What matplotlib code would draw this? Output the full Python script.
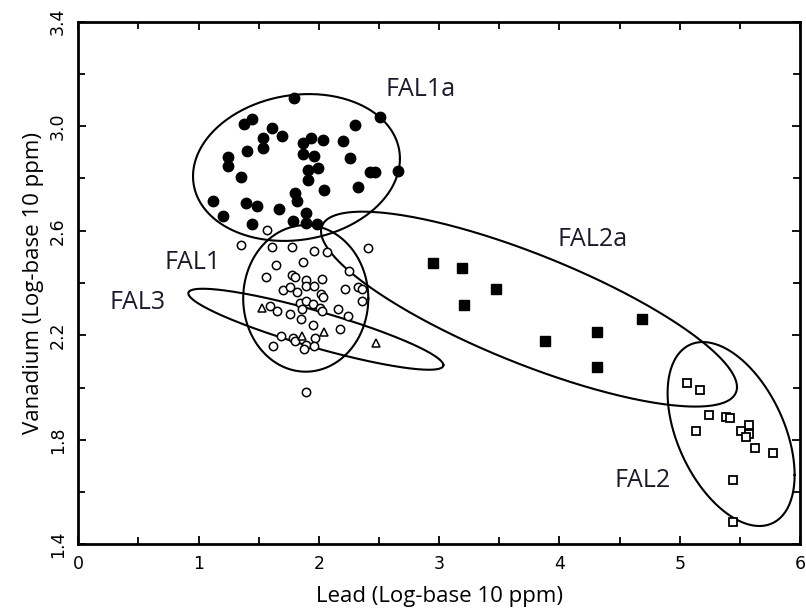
import numpy as np
import matplotlib
matplotlib.use("Agg")
import matplotlib.pyplot as plt
from matplotlib.ticker import MultipleLocator, FixedLocator

# FAL1a - filled circles
fal1a_pb = [1.793, 2.508, 1.442, 1.378, 1.608, 1.691, 1.538, 1.538, 1.400, 1.247,
            1.247, 1.350, 2.300, 2.203, 2.259, 1.871, 1.932, 2.032, 1.871, 1.960,
            1.912, 1.995, 1.912, 2.043, 2.425, 2.467, 2.660, 2.323, 1.122, 1.201,
            1.394, 1.483, 1.669, 1.802, 1.816, 1.893, 1.442, 1.783, 1.893, 1.982]
fal1a_v = [3.109, 3.035, 3.028, 3.008, 2.994, 2.964, 2.954, 2.915, 2.905, 2.881,
           2.848, 2.805, 3.005, 2.945, 2.877, 2.935, 2.956, 2.947, 2.894, 2.886,
           2.832, 2.839, 2.794, 2.756, 2.826, 2.826, 2.829, 2.766, 2.715, 2.656,
           2.707, 2.695, 2.683, 2.743, 2.715, 2.669, 2.625, 2.637, 2.628, 2.626]

# FAL1 - open circles
fal1_pb = [1.571, 1.353, 1.608, 1.774, 1.962, 2.070, 2.411, 1.871, 1.641, 1.561,
           1.774, 1.802, 1.893, 2.024, 2.253, 1.704, 1.760, 1.816, 1.893, 1.960,
           2.015, 2.037, 2.217, 2.328, 2.356, 2.356, 1.594, 1.649, 1.760, 1.843,
           1.893, 1.954, 1.857, 1.849, 2.010, 2.024, 2.162, 2.240, 1.954, 2.176,
           1.683, 1.783, 1.802, 1.893, 1.968, 1.960, 1.876, 1.621, 1.891]
fal1_v = [2.603, 2.545, 2.539, 2.537, 2.524, 2.517, 2.535, 2.482, 2.469, 2.422,
          2.431, 2.422, 2.411, 2.414, 2.447, 2.373, 2.386, 2.367, 2.389, 2.389,
          2.358, 2.345, 2.376, 2.386, 2.376, 2.332, 2.313, 2.294, 2.281, 2.325,
          2.332, 2.320, 2.299, 2.261, 2.303, 2.294, 2.299, 2.275, 2.239, 2.224,
          2.197, 2.188, 2.179, 2.163, 2.188, 2.159, 2.146, 2.159, 1.984]

# FAL3 - open triangles
fal3_pb = [1.525, 1.857, 2.045, 2.475]
fal3_v = [2.303, 2.197, 2.214, 2.172]

# FAL2a - filled squares
fal2a_pb = [2.951, 3.188, 3.470, 3.207, 3.880, 4.310, 4.684, 4.315]
fal2a_v = [2.475, 2.459, 2.377, 2.316, 2.179, 2.214, 2.262, 2.080]

# FAL2 - open squares
fal2_pb = [5.063, 5.169, 5.246, 5.133, 5.385, 5.418, 5.576, 5.507, 5.579, 5.551,
           5.626, 5.773, 5.441, 5.446]
fal2_v = [2.018, 1.991, 1.895, 1.835, 1.888, 1.882, 1.857, 1.835, 1.822, 1.809,
          1.767, 1.751, 1.646, 1.484]

# group ellipses: centre x, centre y, spread x, spread y, correlation
ellipses = {
    "FAL1a": (1.814, 2.842, 0.860, 0.281, 0.12),
    "FAL1": (1.891, 2.341, 0.520, 0.2805, 0.0),
    "FAL3": (1.975, 2.223, 1.060, 0.155, -0.886),
    "FAL2a": (3.747, 2.300, 1.729, 0.373, -0.80),
    "FAL2": (5.427, 1.822, 0.528, 0.352, -0.445),
}

# group labels
labels = {
    "FAL1a": (2.55, 3.14),
    "FAL2a": (3.98, 2.565),
    "FAL1": (0.72, 2.48),
    "FAL3": (0.26, 2.327),
    "FAL2": (4.46, 1.645),
}

y_ticks = [1.4, 1.8, 2.2, 2.6, 3.0, 3.4]
x_ticks = [0, 1, 2, 3, 4, 5, 6]


def ellipse_xy(cx, cy, sx, sy, rho, n=300):
    cov = np.array([[sx * sx, rho * sx * sy], [rho * sx * sy, sy * sy]])
    L = np.linalg.cholesky(cov)
    t = np.linspace(0, 2 * np.pi, n)
    pts = L @ np.vstack([np.cos(t), np.sin(t)])
    return cx + pts[0], cy + pts[1]


fig = plt.figure(figsize=(8.06, 6.13), dpi=100)
ax = fig.add_axes([0.0971, 0.1121, 0.8955, 0.8525])

for name, (cx, cy, sx, sy, rho) in ellipses.items():
    ex, ey = ellipse_xy(cx, cy, sx, sy, rho)
    ax.plot(ex, ey, color="black", lw=1.5, zorder=1)

ax.plot(fal1a_pb, fal1a_v, "o", ms=7.5, mfc="black", mec="black", ls="none", zorder=3)
ax.plot(fal1_pb, fal1_v, "o", ms=6, mfc="white", mec="black", mew=1.1, ls="none", zorder=3)
ax.plot(fal3_pb, fal3_v, "^", ms=6, mfc="white", mec="black", mew=1.1, ls="none", zorder=3)
ax.plot(fal2a_pb, fal2a_v, "s", ms=6.5, mfc="black", mec="black", ls="none", zorder=3)
ax.plot(fal2_pb, fal2_v, "s", ms=6, mfc="white", mec="black", mew=1.3, ls="none", zorder=3)

for name, (lx, ly) in labels.items():
    ax.text(lx, ly, name, fontsize=18, family="Open Sans", color="#1a1a2a",
            ha="left", va="center")

ax.set_xlim(0, 6)
ax.set_ylim(1.4, 3.4)
ax.xaxis.set_major_locator(FixedLocator(x_ticks))
ax.xaxis.set_minor_locator(MultipleLocator(0.5))
ax.yaxis.set_major_locator(FixedLocator(y_ticks))
ax.yaxis.set_minor_locator(MultipleLocator(0.2))
ax.set_yticklabels([f"{v:.1f}" for v in y_ticks], rotation=90, va="center")
ax.tick_params(which="both", direction="in", top=True, right=True, width=1.3)
ax.tick_params(which="major", length=6, labelsize=12.5, pad=8)
ax.tick_params(which="minor", length=5)
for sp in ax.spines.values():
    sp.set_linewidth(2)

ax.set_xlabel("Lead (Log-base 10 ppm)", fontsize=16, family="Open Sans", labelpad=9)
ax.set_ylabel("Vanadium (Log-base 10 ppm)", fontsize=16, family="Open Sans", labelpad=4)

fig.savefig("out.png", dpi=100)
